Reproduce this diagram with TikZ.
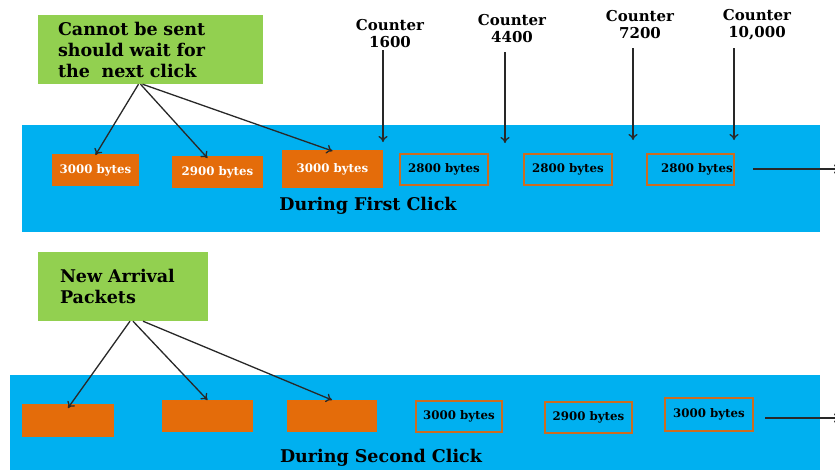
\documentclass[tikz,border=0pt]{standalone}
\usepackage{fontspec}
\setmainfont{DejaVu Serif}
\usetikzlibrary{arrows.meta}
\definecolor{bandblue}{HTML}{00B0F0}
\definecolor{pktorange}{HTML}{E46C0A}
\definecolor{edgeorange}{RGB}{205,108,32}
\definecolor{notegreen}{HTML}{92D050}
\definecolor{arrowgray}{RGB}{40,40,40}
\tikzset{
  band/.style={fill=bandblue, draw=none},
  pktfont/.style={font=\bfseries\fontsize{11.8}{13}\selectfont},
  filledpkt/.style={fill=pktorange, draw=none, inner sep=0pt, outer sep=0pt,
    text=white, pktfont},
  outlinepkt/.style={draw=edgeorange, line width=1.6pt, fill=none, inner sep=0pt, outer sep=0pt,
    text=black, pktfont},
  note/.style={fill=notegreen, draw=none, align=left, anchor=center,
    font=\bfseries\fontsize{17.5}{21}\selectfont, inner ysep=0pt},
  counter/.style={align=center, font=\bfseries\fontsize{15}{17}\selectfont, inner sep=0pt},
  caption/.style={font=\bfseries\fontsize{17.5}{19}\selectfont, inner sep=0pt},
  conn/.style={draw=arrowgray, line width=1.3pt, -{To[length=6pt,width=9pt]}},
}
\begin{document}
\begin{tikzpicture}[x=1pt,y=-1pt]
\useasboundingbox (0,0) rectangle (835,469);
% bands
\path[band] (22,125) rectangle (820,232);
\path[band] (10,375) rectangle (820,472);
% green notes
\node[note, minimum width=225pt, minimum height=69pt, text width=185pt, inner xsep=20pt] (g1) at (150.5,49.5)
  {Cannot be sent\\should wait for\\the\ \ next click};
\node[note, minimum width=170pt, minimum height=69pt, text width=126pt, inner xsep=22pt] (g2) at (123,286.5)
  {New Arrival\\Packets};
% row 1 packets
\node[filledpkt, minimum width=87pt, minimum height=32pt] (b1) at (95.5,170) {3000 bytes};
\node[filledpkt, minimum width=91pt, minimum height=32pt] (b2) at (217.5,172) {2900 bytes};
\node[filledpkt, minimum width=101pt, minimum height=38pt] (b3) at (332.5,169) {3000 bytes};
\node[outlinepkt, minimum width=88pt, minimum height=31pt] (b4) at (444,169.5) {2800 bytes};
\node[outlinepkt, minimum width=88pt, minimum height=31pt] (b5) at (568,169.5) {2800 bytes};
\node[outlinepkt, minimum width=87pt, minimum height=31pt] (b6) at (690.5,169.5) {};
\node[text=black, pktfont, inner sep=0pt] (b6t) at (697,169.5) {2800 bytes};
\node[caption] (cap1) at (368,206) {During First Click};
% row 2 packets
\node[filledpkt, minimum width=92pt, minimum height=33pt] (c1) at (68,420.5) {};
\node[filledpkt, minimum width=91pt, minimum height=32pt] (c2) at (207.5,416) {};
\node[filledpkt, minimum width=90pt, minimum height=32pt] (c3) at (332,416) {};
\node[outlinepkt, minimum width=86pt, minimum height=31pt] (c4) at (459,416.5) {3000 bytes};
\node[outlinepkt, minimum width=87pt, minimum height=31pt] (c5) at (588.5,417.5) {2900 bytes};
\node[outlinepkt, minimum width=88pt, minimum height=33pt] (c6) at (709,414.5) {3000 bytes};
\node[caption] (cap2) at (381,458) {During Second Click};
% counters
\node[counter] (k1) at (390,34) {Counter\\1600};
\node[counter] (k2) at (512,29) {Counter\\4400};
\node[counter] (k3) at (640,25) {Counter\\7200};
\node[counter] (k4) at (757,25) {Counter\\10,000};
\coordinate (k1s) at (383,50);  \coordinate (k1e) at (383,142);
\coordinate (k2s) at (505,52);  \coordinate (k2e) at (505,143);
\coordinate (k3s) at (633,48);  \coordinate (k3e) at (633,140);
\coordinate (k4s) at (734,48);  \coordinate (k4e) at (734,140);
\draw[conn] (k1s) -- (k1e);
\draw[conn] (k2s) -- (k2e);
\draw[conn] (k3s) -- (k3e);
\draw[conn] (k4s) -- (k4e);
% note arrows
\draw[conn] ([xshift=-12pt]g1.south) -- ([yshift=-1pt]b1.north);
\draw[conn] ([xshift=-10pt]g1.south) -- ([xshift=-10pt,yshift=-2pt]b2.north);
\draw[conn] ([xshift=-8pt]g1.south) -- ([yshift=-1pt]b3.north);
\draw[conn] ([xshift=7pt]g2.south) -- ([yshift=-4pt]c1.north);
\draw[conn] ([xshift=10pt]g2.south) -- (c2.north);
\draw[conn] ([xshift=20pt]g2.south) -- (c3.north);
% outgoing lines
\coordinate (o1s) at (753,169); \coordinate (o1e) at (840,169);
\coordinate (o2s) at (765,418); \coordinate (o2e) at (840,418);
\draw[conn] (o1s) -- (o1e);
\draw[conn] (o2s) -- (o2e);
\end{tikzpicture}
\end{document}
